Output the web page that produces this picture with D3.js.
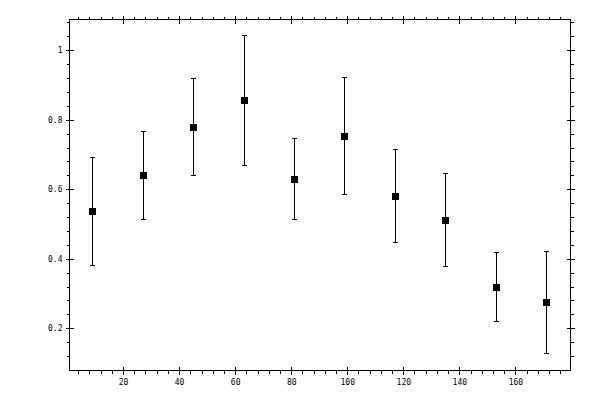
<!DOCTYPE html>
<html>
<head>
<meta charset="utf-8">
<script src="https://cdn.jsdelivr.net/npm/d3@7"></script>
<style>
  body { margin: 0; background: #fff; }
  svg { display: block; }
  .tick text { font-family: "DejaVu Sans Mono", monospace; font-size: 8px; fill: #000; }
</style>
</head>
<body>
<div id="container"></div>
<script>
/**
 * DATA
 * */
const binCenters = [9, 27, 45, 63, 81, 99, 117, 135, 153, 171];
const values     = [0.537, 0.640, 0.778, 0.856, 0.629, 0.753, 0.580, 0.511, 0.318, 0.275];
const upper      = [0.692, 0.768, 0.919, 1.043, 0.747, 0.922, 0.715, 0.646, 0.419, 0.422];
const lower      = [0.381, 0.514, 0.641, 0.669, 0.514, 0.586, 0.447, 0.378, 0.221, 0.128];

const xMajor = [20, 40, 60, 80, 100, 120, 140, 160];
const yMajor = [0.2, 0.4, 0.6, 0.8, 1];
const yLabels = ["0.2", "0.4", "0.6", "0.8", "1"];

/**
 * CONSTANTS
 * */
const width = 600, height = 400;
const plot = {left: 69, right: 570, top: 19, bottom: 370};

const svg = d3.select("#container")
  .append("svg")
  .attr("width", width)
  .attr("height", height);

const x = d3.scaleLinear().domain([0.7, 179.5]).range([plot.left, plot.right]);
const y = d3.scaleLinear().domain([0.08, 1.09]).range([plot.bottom, plot.top]);

const xMinor = d3.range(4, 180, 4).filter(d => d % 20 !== 0);
const yMinor = d3.range(12, 109, 4).map(d => d / 100).filter(d => Math.round(d * 100) % 20 !== 0);

// frame
svg.append("rect")
  .attr("x", plot.left + 0.5)
  .attr("y", plot.top + 0.5)
  .attr("width", plot.right - plot.left)
  .attr("height", plot.bottom - plot.top)
  .attr("fill", "none")
  .attr("stroke", "#000")
  .attr("shape-rendering", "crispEdges");

function tickAxis(axis, transform, vals, size, labels) {
  const g = svg.append("g")
    .attr("transform", transform)
    .attr("shape-rendering", "crispEdges")
    .call(axis.tickValues(vals).tickSizeInner(size).tickSizeOuter(0)
      .tickFormat(labels ? labels : () => ""));
  g.select(".domain").remove();
  g.selectAll(".tick line").attr("stroke", "#000");
  return g;
}

const bottomY = plot.bottom + 0.5, topY = plot.top + 0.5;
const leftX = plot.left + 0.5, rightX = plot.right + 0.5;

// bottom
const xLab = tickAxis(d3.axisBottom(x), `translate(0,${bottomY})`, xMajor, 4, d => d);
xLab.selectAll(".tick text").attr("y", 9).attr("dy", "0.71em");
tickAxis(d3.axisBottom(x), `translate(0,${bottomY})`, xMajor, -4);
tickAxis(d3.axisBottom(x), `translate(0,${bottomY})`, xMinor, 3);
// top
tickAxis(d3.axisTop(x), `translate(0,${topY})`, xMajor, 4);
tickAxis(d3.axisTop(x), `translate(0,${topY})`, xMajor, -4);
tickAxis(d3.axisTop(x), `translate(0,${topY})`, xMinor, 3);
// left
const yLab = tickAxis(d3.axisLeft(y), `translate(${leftX},0)`, yMajor, 4, (d, i) => yLabels[i]);
yLab.selectAll(".tick text").attr("x", -7);
tickAxis(d3.axisLeft(y), `translate(${leftX},0)`, yMajor, -4);
tickAxis(d3.axisLeft(y), `translate(${leftX},0)`, yMinor, 3);
// right
tickAxis(d3.axisRight(y), `translate(${rightX},0)`, yMajor, 4);
tickAxis(d3.axisRight(y), `translate(${rightX},0)`, yMajor, -4);
tickAxis(d3.axisRight(y), `translate(${rightX},0)`, yMinor, 3);

// error bars
const pts = binCenters.map((c, i) => ({c, v: values[i], hi: upper[i], lo: lower[i]}));
const eb = svg.append("g")
  .attr("stroke", "#000")
  .attr("stroke-width", 1)
  .attr("shape-rendering", "crispEdges");

eb.selectAll(".stem").data(pts).join("line")
  .attr("x1", d => Math.round(x(d.c)) + 0.5).attr("x2", d => Math.round(x(d.c)) + 0.5)
  .attr("y1", d => y(d.hi)).attr("y2", d => y(d.lo));
eb.selectAll(".capHi").data(pts).join("line")
  .attr("x1", d => Math.round(x(d.c)) - 2).attr("x2", d => Math.round(x(d.c)) + 3)
  .attr("y1", d => Math.round(y(d.hi)) + 0.5).attr("y2", d => Math.round(y(d.hi)) + 0.5);
eb.selectAll(".capLo").data(pts).join("line")
  .attr("x1", d => Math.round(x(d.c)) - 2).attr("x2", d => Math.round(x(d.c)) + 3)
  .attr("y1", d => Math.round(y(d.lo)) + 0.5).attr("y2", d => Math.round(y(d.lo)) + 0.5);

// markers
svg.append("g").selectAll("rect").data(pts).join("rect")
  .attr("x", d => Math.round(x(d.c)) - 3)
  .attr("y", d => Math.round(y(d.v)) - 3)
  .attr("width", 7)
  .attr("height", 7)
  .attr("fill", "#000")
  .attr("shape-rendering", "crispEdges");
</script>
</body>
</html>
